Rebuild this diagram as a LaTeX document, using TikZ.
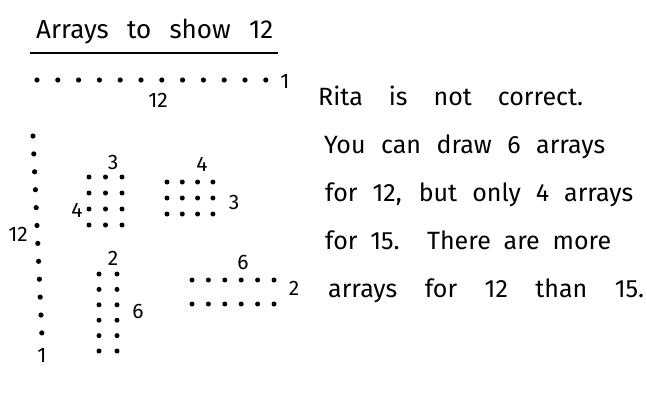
\documentclass[tikz,border=0pt]{standalone}
\usepackage{fontspec}
\setmainfont{Fira Sans}
\begin{document}
\begin{tikzpicture}[x=1pt, y=-1pt,
    lbl/.style={font=\fontsize{21}{23}\selectfont, inner sep=0pt},
    txt/.style={font=\fontsize{25}{27}\selectfont, inner sep=0pt, anchor=base west}]
  \useasboundingbox (0,0) rectangle (647,402);

  % Title
  \node[anchor=base west, inner sep=0pt, font=\fontsize{26}{28}\selectfont] (title) at (36,38) {\makebox[237pt][s]{Arrays to show 12}};
  \draw[line width=1.3pt] (30,53) -- (278,53);

  % Row 1 x 12
  \foreach \i in {0,...,11}
    \fill (37+\i*20.8, 80) circle (2.6);
  \node[lbl] (rowa) at (285,81) {1};
  \node[lbl] (rowb) at (158,100) {12};

  % Column 12 x 1
  \foreach \i in {0,...,11}
    \fill (33+\i*0.8, 136+\i*17.9) circle (2.6);
  \node[lbl] (cola) at (18,234) {12};
  \node[lbl] (colb) at (42,355) {1};

  % 4 x 3
  \foreach \r in {0,...,3}
    \foreach \c in {0,...,2}
      \fill (89+\c*16.5, 177+\r*16) circle (2.5);
  \node[lbl] (fa) at (113,162) {3};
  \node[lbl] (fb) at (77,210) {4};

  % 3 x 4
  \foreach \r in {0,...,2}
    \foreach \c in {0,...,3}
      \fill (167+\c*15.3, 182+\r*16) circle (2.5);
  \node[lbl] (ta) at (202,164) {4};
  \node[lbl] (tb) at (234,202) {3};

  % 6 x 2
  \foreach \r in {0,...,5}
    \foreach \c in {0,...,1}
      \fill (99+\c*18, 274+\r*15.4) circle (2.5);
  \node[lbl] (sa) at (113,258) {2};
  \node[lbl] (sb) at (138,311) {6};

  % 2 x 6
  \foreach \r in {0,...,1}
    \foreach \c in {0,...,5}
      \fill (192+\c*16.4, 280+\r*24) circle (2.5);
  \node[lbl] (wa) at (243,262) {6};
  \node[lbl] (wb) at (294,288) {2};

  % Answer
  \node[txt] (lna) at (318,105) {\makebox[265pt][s]{Rita is not correct.}};
  \node[txt] (lnb) at (324,153) {\makebox[281pt][s]{You can draw 6 arrays}};
  \node[txt] (lnc) at (325,201) {\makebox[308pt][s]{for 12, but only 4 arrays}};
  \node[txt] (lnd) at (325,249) {\makebox[286pt][s]{for 15. There are more}};
  \node[txt] (lne) at (328,297) {\makebox[316pt][s]{arrays for 12 than 15.}};
\end{tikzpicture}
\end{document}
